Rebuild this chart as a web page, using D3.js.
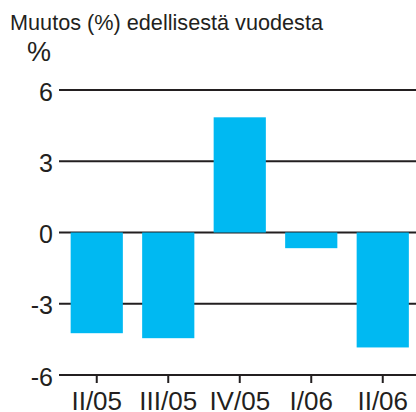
<!DOCTYPE html>
<html>
<head>
<meta charset="utf-8">
<script src="https://cdn.jsdelivr.net/npm/d3@7"></script>
<style>
  body { margin: 0; background: #fff; }
  svg { display: block; font-family: "Liberation Sans", Arial, sans-serif; }
</style>
</head>
<body>
<svg id="chart" width="416" height="412"></svg>
<script>
const quarters = ['II/05', 'III/05', 'IV/05', 'I/06', 'II/06'];
const changes = [-4.24, -4.45, 4.85, -0.66, -4.84];
const yTicks = [-6, -3, 0, 3, 6];

const svg = d3.select('#chart');
const ink = '#231f20';
const barColor = '#00b9f2';

const x = d3.scaleBand().domain(quarters).range([61, 418.5])
    .paddingInner(0.27).paddingOuter(0.135);
const y = d3.scaleLinear().domain([-6, 6]).range([375, 90]);

// subtitle + unit
svg.append('text').attr('x', 10).attr('y', 29.5)
    .attr('font-size', 22).attr('fill', ink)
    .attr('textLength', 313).attr('lengthAdjust', 'spacingAndGlyphs')
    .text('Muutos (%) edellisestä vuodesta');
svg.append('text').attr('x', 27).attr('y', 61)
    .attr('font-size', 27).attr('fill', ink).text('%');

// grid lines
const grid = svg.append('g');
grid.selectAll('line').data(yTicks).enter().append('line')
    .attr('x1', 59).attr('x2', 416)
    .attr('y1', d => y(d)).attr('y2', d => y(d))
    .attr('stroke', ink).attr('stroke-width', 2);
grid.selectAll('text').data(yTicks).enter().append('text')
    .attr('x', 53).attr('y', d => y(d) + 10.5)
    .attr('text-anchor', 'end').attr('font-size', 25).attr('fill', ink)
    .text(d => d);

// bars
svg.append('g').selectAll('rect').data(changes).enter().append('rect')
    .attr('x', (d, i) => x(quarters[i]))
    .attr('width', x.bandwidth())
    .attr('y', d => y(Math.max(0, d)))
    .attr('height', d => Math.abs(y(d) - y(0)))
    .attr('fill', barColor);

// x axis ticks + labels
const xa = svg.append('g');
xa.selectAll('line').data(quarters).enter().append('line')
    .attr('x1', d => x(d) + x.bandwidth() / 2).attr('x2', d => x(d) + x.bandwidth() / 2)
    .attr('y1', y(-6)).attr('y2', y(-6) + 8)
    .attr('stroke', ink).attr('stroke-width', 2);
xa.selectAll('text').data(quarters).enter().append('text')
    .attr('x', d => x(d) + x.bandwidth() / 2).attr('y', 410)
    .attr('text-anchor', 'middle').attr('font-size', 26).attr('fill', ink)
    .text(d => d);
</script>
</body>
</html>
